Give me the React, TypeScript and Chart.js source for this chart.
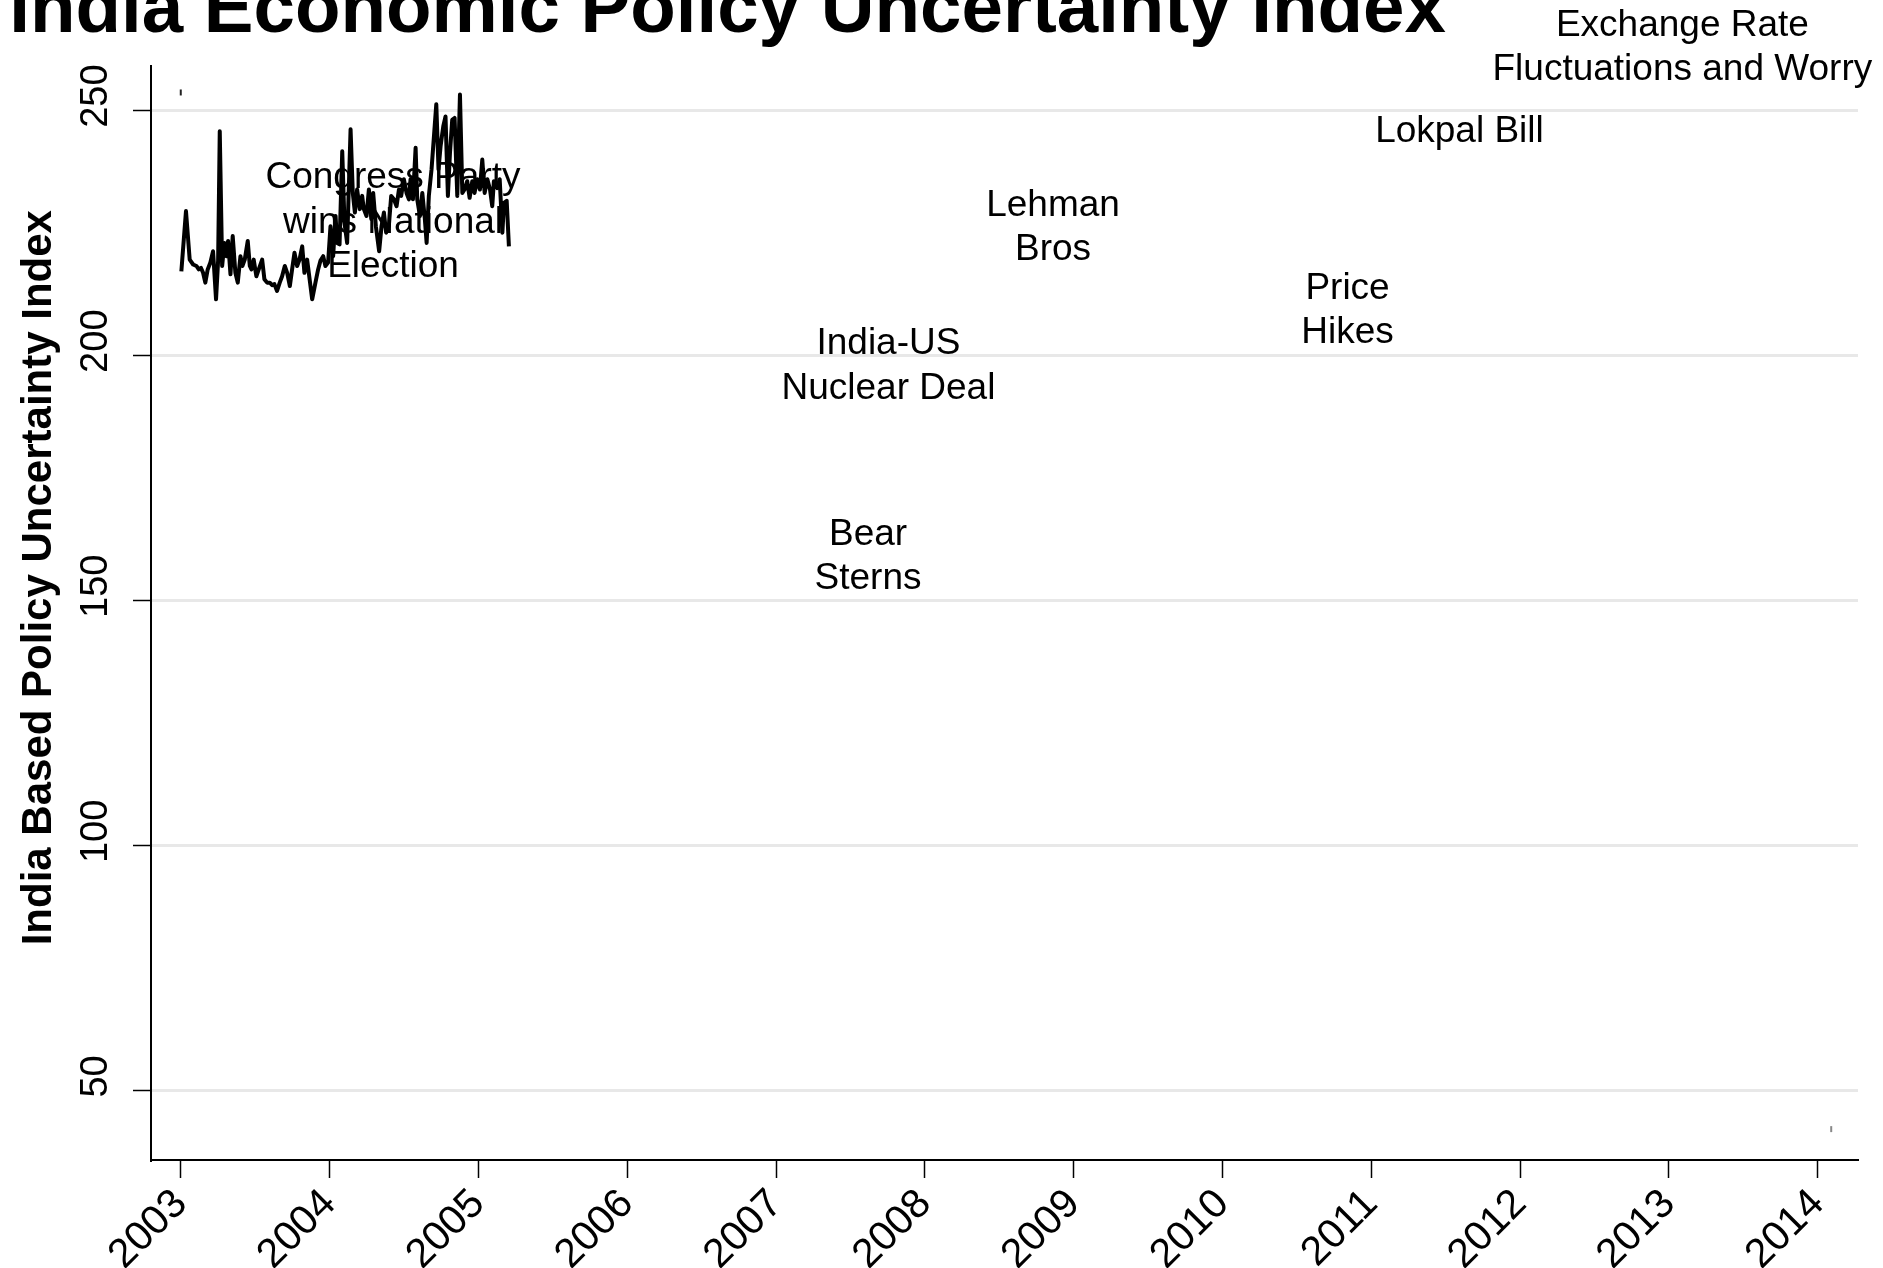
import React, { useEffect, useRef } from "react";
import { Chart, registerables } from "chart.js";

Chart.register(...registerables);

const FONT = "'Liberation Sans', Arial, sans-serif";

const titleText = "India Economic Policy Uncertainty Index";
const yAxisTitle = "India Based Policy Uncertainty Index";

const xTicks = [2003, 2004, 2005, 2006, 2007, 2008, 2009, 2010, 2011, 2012, 2013, 2014];
const yTicks = [50, 100, 150, 200, 250];

const seriesYears = [
  2003.004, 2003.035, 2003.06, 2003.083, 2003.105, 2003.121, 2003.136, 2003.15, 2003.165, 2003.181,
  2003.199, 2003.217, 2003.237, 2003.251, 2003.262, 2003.278, 2003.293, 2003.307, 2003.318, 2003.334,
  2003.349, 2003.367, 2003.383, 2003.401, 2003.414, 2003.43, 2003.45, 2003.464, 2003.475, 2003.49,
  2003.508, 2003.524, 2003.547, 2003.562, 2003.58, 2003.598, 2003.614, 2003.629, 2003.647, 2003.665,
  2003.681, 2003.699, 2003.715, 2003.733, 2003.748, 2003.764, 2003.782, 2003.798, 2003.816, 2003.831,
  2003.849, 2003.883, 2003.905, 2003.923, 2003.939, 2003.957, 2003.972, 2003.99, 2004.006, 2004.024,
  2004.04, 2004.051, 2004.067, 2004.085, 2004.1, 2004.118, 2004.141, 2004.156, 2004.17, 2004.185,
  2004.203, 2004.219, 2004.23, 2004.248, 2004.264, 2004.28, 2004.293, 2004.311, 2004.333, 2004.349,
  2004.365, 2004.38, 2004.398, 2004.414, 2004.432, 2004.45, 2004.466, 2004.481, 2004.499, 2004.517,
  2004.533, 2004.544, 2004.56, 2004.578, 2004.589, 2004.607, 2004.623, 2004.64, 2004.652, 2004.667,
  2004.685, 2004.717, 2004.732, 2004.746, 2004.764, 2004.779, 2004.795, 2004.809, 2004.824, 2004.84,
  2004.858, 2004.876, 2004.892, 2004.907, 2004.925, 2004.941, 2004.959, 2004.974, 2004.992, 2005.01,
  2005.026, 2005.042, 2005.06, 2005.078, 2005.093, 2005.104, 2005.127, 2005.143, 2005.161, 2005.172,
  2005.19, 2005.205,
];

const seriesValues = [
  217.1, 229.4, 219.5, 218.5, 218.2, 217.5, 217.8, 216.8, 214.8, 217.5,
  218.9, 221.2, 211.4, 219.3, 245.7, 218.2, 222.9, 220.2, 223.3, 216.5,
  224.3, 216.8, 214.8, 220.2, 218.2, 219.5, 223.3, 218.2, 217.5, 219.5,
  216.1, 217.5, 219.5, 215.5, 214.8, 214.8, 214.3, 214.5, 213.1, 214.8,
  216.1, 218.2, 216.8, 214.1, 217.5, 220.9, 218.2, 219.5, 222.2, 216.8,
  219.5, 211.4, 214.8, 217.5, 219.3, 220.2, 218.2, 218.9, 226.3, 220.2,
  228.4, 222.9, 222.6, 241.6, 227.0, 222.9, 246.1, 233.1, 229.1, 233.8,
  229.8, 232.5, 229.8, 228.4, 233.8, 227.8, 233.1, 226.3, 221.2, 226.3,
  229.1, 225.0, 226.3, 232.5, 231.8, 230.4, 233.8, 232.5, 235.9, 233.1,
  231.8, 235.9, 231.8, 242.3, 231.8, 228.4, 233.1, 227.8, 222.9, 232.5,
  237.9, 251.2, 237.9, 242.7, 246.7, 248.7, 232.5, 241.3, 248.0, 248.4,
  232.5, 253.2, 233.1, 233.8, 235.5, 232.1, 235.5, 233.1, 235.9, 233.8,
  239.9, 233.1, 235.9, 233.8, 230.4, 235.5, 234.1, 235.9, 225.0, 231.1,
  231.5, 222.2,
];

const markerYears = [2003.0, 2014.09];
const markerValues = [253.6, 42.1];

const annotationLines = [
  ["Congress Party", "wins National", "Election"],
  ["India-US", "Nuclear Deal"],
  ["Bear", "Sterns"],
  ["Lehman", "Bros"],
  ["Price", "Hikes"],
  ["Lokpal Bill"],
  ["Exchange Rate", "Fluctuations and Worry"],
];
const annotationYears = [2004.426, 2007.755, 2007.618, 2008.861, 2010.84, 2011.592, 2013.09];
const annotationValues = [227.7, 198.4, 159.5, 226.6, 209.7, 246.2, 263.3];

const overlayPlugin = {
  id: "overlay",
  afterDraw(chart: any) {
    const ctx = chart.ctx as CanvasRenderingContext2D;
    const xs = chart.scales.x;
    const ys = chart.scales.y;
    ctx.save();
    ctx.fillStyle = "#000";

    // annotations
    const afs = 37;
    const alh = 44.5;
    ctx.font = `${afs}px ${FONT}`;
    ctx.textAlign = "center";
    ctx.textBaseline = "alphabetic";
    annotationLines.forEach((lines, i) => {
      const cx = xs.getPixelForValue(annotationYears[i]);
      const cy = ys.getPixelForValue(annotationValues[i]);
      const n = lines.length;
      lines.forEach((t, j) => {
        ctx.fillText(t, cx, cy + (j - (n - 1) / 2) * alh + 0.358 * afs);
      });
    });

    // y tick labels (vertical)
    ctx.font = `38px ${FONT}`;
    yTicks.forEach((v) => {
      const py = ys.getPixelForValue(v);
      ctx.save();
      ctx.translate(107, py - 14);
      ctx.rotate(-Math.PI / 2);
      ctx.textAlign = "center";
      ctx.textBaseline = "alphabetic";
      ctx.fillText(String(v), 0, 0);
      ctx.restore();
    });

    // y axis title
    ctx.save();
    ctx.font = `bold 42px ${FONT}`;
    ctx.translate(51, 577.7);
    ctx.rotate(-Math.PI / 2);
    ctx.textAlign = "center";
    ctx.textBaseline = "alphabetic";
    ctx.fillText(yAxisTitle, 0, 0);
    ctx.restore();

    // main title
    ctx.font = `bold 74.5px ${FONT}`;
    ctx.textAlign = "left";
    ctx.textBaseline = "alphabetic";
    ctx.fillText(titleText, 9.3, 31.7);

    ctx.restore();
  },
};

export default function App() {
  const ref = useRef<HTMLCanvasElement | null>(null);

  useEffect(() => {
    if (!ref.current) return;
    const chart = new Chart(ref.current, {
      type: "line",
      data: {
        datasets: [
          {
            data: seriesYears.map((x, i) => ({ x, y: seriesValues[i] })),
            borderColor: "#000",
            borderWidth: 4,
            pointRadius: 0,
            tension: 0,
            borderJoinStyle: "round",
            fill: false,
          },
          {
            data: markerYears.map((x, i) => ({ x, y: markerValues[i] })),
            showLine: false,
            pointStyle: "line",
            rotation: 90,
            pointRadius: 3,
            borderWidth: 2,
            borderColor: ["#222", "#888"],
            backgroundColor: ["#222", "#888"],
          },
        ],
      } as any,
      options: {
        animation: false,
        responsive: false,
        devicePixelRatio: 1,
        events: [],
        layout: { padding: { top: 66, right: 25, left: 0, bottom: 0 } },
        plugins: {
          legend: { display: false },
          tooltip: { enabled: false },
          title: { display: false },
        },
        scales: {
          x: {
            type: "linear",
            min: 2002.8,
            max: 2014.27,
            afterBuildTicks: (s: any) => {
              s.ticks = xTicks.map((v) => ({ value: v }));
            },
            afterFit: (s: any) => {
              s.height = 108;
            },
            grid: {
              drawOnChartArea: false,
              drawTicks: true,
              tickLength: 18,
              tickColor: "#000",
              tickWidth: 1.5,
            },
            border: { color: "#000", width: 2 },
            ticks: {
              autoSkip: false,
              minRotation: 45,
              maxRotation: 45,
              padding: 2,
              color: "#000",
              font: { family: FONT, size: 41 },
              callback: (v: any) => String(v),
            },
          },
          y: {
            type: "linear",
            min: 35.8,
            max: 259,
            afterBuildTicks: (s: any) => {
              s.ticks = yTicks.map((v) => ({ value: v }));
            },
            afterFit: (s: any) => {
              s.width = 151;
            },
            grid: {
              color: "#e8e8e8",
              lineWidth: 3,
              drawTicks: true,
              tickLength: 18,
              tickColor: "#000",
              tickWidth: 1.5,
            },
            border: { color: "#000", width: 2 },
            ticks: { display: false },
          },
        },
      } as any,
      plugins: [overlayPlugin],
    });
    return () => chart.destroy();
  }, []);

  return (
    <div style={{ position: "fixed", left: 0, top: 0, width: 1883, height: 1268, background: "#fff" }}>
      <canvas ref={ref} width={1883} height={1268} style={{ width: 1883, height: 1268 }} />
    </div>
  );
}
